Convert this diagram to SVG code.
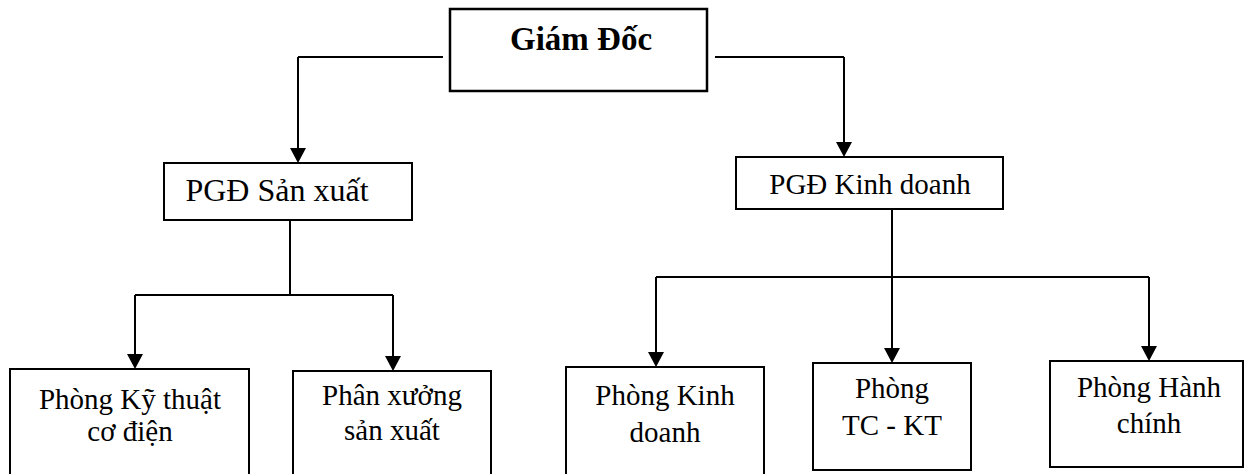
<svg xmlns="http://www.w3.org/2000/svg" width="1251" height="474" viewBox="0 0 1251 474">
  <style>
    .box { fill: #ffffff; stroke: #000000; stroke-width: 2; }
    .top { stroke-width: 2.5; }
    .link { fill: none; stroke: #000000; stroke-width: 2; }
    .arrow { fill: none; stroke: #000000; stroke-width: 2; marker-end: url(#head); }
    text { font-family: "Liberation Serif", "Times New Roman", serif; fill: #000000; text-anchor: middle; }
    .lbl { font-size: 29px; }
    .wide { font-size: 32px; }
    .title { font-size: 33px; font-weight: bold; }
  </style>
  <defs>
    <marker id="head" markerUnits="userSpaceOnUse" markerWidth="16" markerHeight="16" viewBox="0 0 15 16" refX="3" refY="8" orient="auto">
      <path d="M0,0 L15,8 L0,16 Z" fill="#000000"/>
    </marker>
  </defs>

  <rect width="1251" height="474" fill="#ffffff"/>

  <g id="connectors">
    <!-- director to the two deputy directors -->
    <path class="link" d="M443,57 H298"/>
    <path class="arrow" d="M298,57 V151"/>
    <path class="link" d="M715,57 H844"/>
    <path class="arrow" d="M844,57 V145"/>
    <!-- production branch -->
    <path class="link" d="M290,220 V295 M135,295 H393"/>
    <path class="arrow" d="M135,295 V357"/>
    <path class="arrow" d="M393,295 V359"/>
    <!-- business branch -->
    <path class="link" d="M892,209 V277 M656,277 H1149"/>
    <path class="arrow" d="M656,277 V355"/>
    <path class="arrow" d="M892,277 V351"/>
    <path class="arrow" d="M1149,277 V349"/>
  </g>

  <g id="giam-doc">
    <rect class="box top" x="450" y="9" width="257" height="82"/>
    <text class="title" x="581" y="50">Giám Đốc</text>
  </g>

  <g id="pgd-san-xuat">
    <rect class="box" x="164" y="163" width="248" height="57"/>
    <text class="wide" x="277" y="201">PGĐ Sản xuất</text>
  </g>

  <g id="pgd-kinh-doanh">
    <rect class="box" x="736" y="157" width="267" height="52"/>
    <text class="lbl" x="870" y="194">PGĐ Kinh doanh</text>
  </g>

  <g id="phong-ky-thuat">
    <rect class="box" x="10" y="369" width="239" height="120"/>
    <text class="lbl" x="130" y="409">Phòng Kỹ thuật</text>
    <text class="lbl" x="130" y="441">cơ điện</text>
  </g>

  <g id="phan-xuong">
    <rect class="box" x="293" y="371" width="198" height="120"/>
    <text class="lbl" x="392" y="405">Phân xưởng</text>
    <text class="lbl" x="392" y="440">sản xuất</text>
  </g>

  <g id="phong-kinh-doanh">
    <rect class="box" x="566" y="367" width="198" height="120"/>
    <text class="lbl" x="665" y="405">Phòng Kinh</text>
    <text class="lbl" x="665" y="442">doanh</text>
  </g>

  <g id="phong-tc-kt">
    <rect class="box" x="813" y="363" width="158" height="107"/>
    <text class="lbl" x="892" y="398">Phòng</text>
    <text class="lbl" x="892" y="435">TC - KT</text>
  </g>

  <g id="phong-hanh-chinh">
    <rect class="box" x="1050" y="361" width="193" height="106"/>
    <text class="lbl" x="1149" y="397">Phòng Hành</text>
    <text class="lbl" x="1149" y="433">chính</text>
  </g>
</svg>
